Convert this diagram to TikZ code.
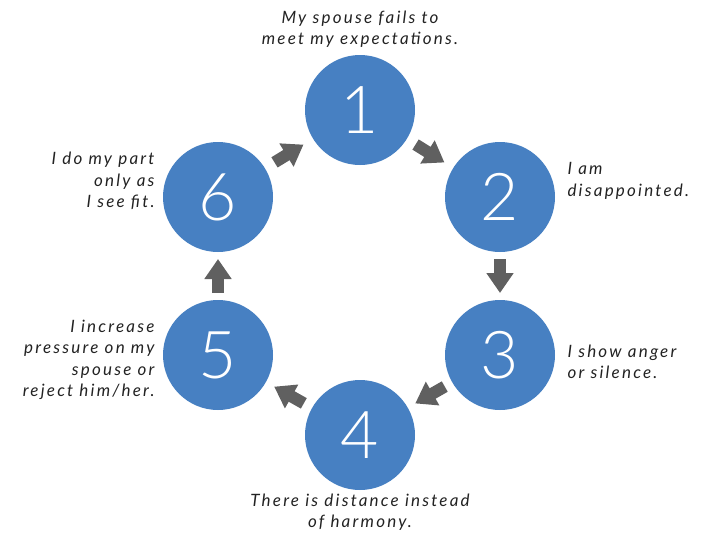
\documentclass[tikz,border=0pt]{standalone}
\usepackage{fontspec}
\setmainfont{Lato}[LetterSpace=13]
\newfontfamily\digitfont{Lato Light}
\usetikzlibrary{calc,arrows.meta}
\definecolor{circblue}{RGB}{71,128,194}
\definecolor{arrowgray}{RGB}{96,96,96}
\definecolor{textgray}{RGB}{34,34,34}
\begin{document}
\begin{tikzpicture}[x=1pt,y=-1pt,
  num/.style={circle, fill=circblue, minimum size=110pt, inner sep=0pt, text=white,
    font=\digitfont\fontsize{66}{66}\selectfont},
  lbl/.style={font=\itshape\fontsize{17}{21.5}\selectfont, text=textgray},
  blockarrow/.style={draw=arrowgray, line width=12pt, -{Triangle[width=26pt,length=20pt]}}]
\useasboundingbox (0,0) rectangle (704,533);
\node[num] (n1) at (360,110) {1};
\node[num] (n2) at (500,197) {2};
\node[num] (n3) at (500,355) {3};
\node[num] (n4) at (360,435) {4};
\node[num] (n5) at (218,355) {5};
\node[num] (n6) at (218,197) {6};
\foreach \a/\b in {n1/n2,n2/n3,n3/n4,n4/n5,n5/n6,n6/n1}{
  \draw[blockarrow] ($(\a)!0.5!(\b)!17pt!(\a)$) -- ($(\a)!0.5!(\b)!17pt!(\b)$);
}
\node[lbl, align=center] (t1) at (360,29) {My spouse fails to\\meet my expectations.};
\node[lbl, align=left, anchor=west] (t2) at (564,181) {I am\\disappointed.};
\node[lbl, align=left, anchor=west] (t3) at (564,362) {I show anger\\or silence.};
\node[lbl, align=center] (t4) at (360,512) {There is distance instead\\of harmony.};
\node[lbl, align=right, anchor=east] (t5) at (158,360) {I increase\\pressure on my\\spouse or\\reject him/her.};
\node[lbl, align=right, anchor=east] (t6) at (158,181) {I do my part\\only as\\I see fit.};
\end{tikzpicture}
\end{document}
